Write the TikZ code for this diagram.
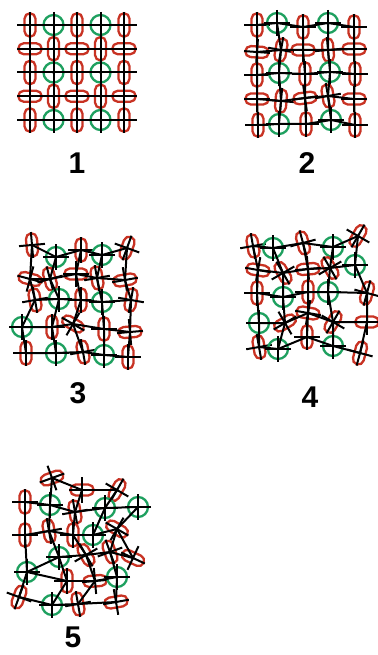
\documentclass[tikz,border=0pt]{standalone}
\usepackage{fontspec}
\setsansfont{Liberation Sans}
\usetikzlibrary{shapes.misc}
\definecolor{verm}{RGB}{200,50,35}
\definecolor{verde}{RGB}{30,160,95}

\begin{document}
\begin{tikzpicture}[x=1pt, y=-1pt,
    cellg/.style={circle, draw=verde, line width=2.3pt, minimum size=20pt, inner sep=0pt},
    cellr/.style={rounded rectangle, draw=verm, line width=2.3pt, minimum width=23.5pt, minimum height=11pt, inner sep=0pt, rotate=#1},
    fio/.style={black, line width=2pt},
    rotulo/.style={font=\sffamily\bfseries\fontsize{30}{30}\selectfont, inner sep=0pt}]
    \useasboundingbox (0,0) rectangle (377,655);
    % Painel 1 (rede regular)
    \foreach \n/\x/\y/\k/\a in {
      a-1-1/30/25/r/90, a-1-2/53.5/25/g/0, a-1-3/77/25/r/90, a-1-4/100.5/25/g/0, a-1-5/124/25/r/90,
      a-2-1/30/48.75/r/0, a-2-2/53.5/48.75/r/90, a-2-3/77/48.75/r/0, a-2-4/100.5/48.75/r/90, a-2-5/124/48.75/r/0,
      a-3-1/30/72.5/r/90, a-3-2/53.5/72.5/g/0, a-3-3/77/72.5/r/90, a-3-4/100.5/72.5/g/0, a-3-5/124/72.5/r/90,
      a-4-1/30/96.25/r/0, a-4-2/53.5/96.25/r/90, a-4-3/77/96.25/r/0, a-4-4/100.5/96.25/r/90, a-4-5/124/96.25/r/0,
      a-5-1/30/120/r/90, a-5-2/53.5/120/g/0, a-5-3/77/120/r/90, a-5-4/100.5/120/g/0, a-5-5/124/120/r/90,
    % Painel 2
      b-1-1/257/25/r/90, b-1-2/277/23/g/0, b-1-3/303/27/r/90, b-1-4/328/23/g/0, b-1-5/354/27/r/90,
      b-2-1/257/52/r/-4, b-2-2/281/50/r/80, b-2-3/303/50/r/0, b-2-4/328/50/r/95, b-2-5/354/49/r/0,
      b-3-1/257/75/r/90, b-3-2/279/73/g/0, b-3-3/305/74/r/90, b-3-4/330/72/g/0, b-3-5/355/74/r/90,
      b-4-1/257/99/r/0, b-4-2/281/101/r/85, b-4-3/305/98/r/8, b-4-4/328/96/r/100, b-4-5/354/99/r/0,
      b-5-1/258/125/r/90, b-5-2/279/124/g/0, b-5-3/306/124/r/90, b-5-4/331/120/g/0, b-5-5/355/125/r/90,
    % Painel 3
      c-1-1/32/245/r/95, c-1-2/56/257/g/0, c-1-3/81/250/r/90, c-1-4/102/255/g/0, c-1-5/127/248/r/70,
      c-2-1/30/279/r/-15, c-2-2/50/279/r/105, c-2-3/76/274/r/0, c-2-4/97/278/r/100, c-2-5/125/280/r/10,
      c-3-1/35/300/r/100, c-3-2/59/299/g/0, c-3-3/81/300/r/90, c-3-4/102/302/g/0, c-3-5/131/300/r/80,
      c-4-1/22/327/g/0, c-4-2/52/327/r/90, c-4-3/73/324/r/-30, c-4-4/104/329/r/90, c-4-5/130/332/r/5,
      c-5-1/26/353/r/90, c-5-2/56/353/g/0, c-5-3/83/352/r/100, c-5-4/104/355/g/0, c-5-5/128/357/r/90,
    % Painel 4
      d-1-1/253/246/r/100, d-1-2/273/248/g/0, d-1-3/303/243/r/105, d-1-4/333/247/g/0, d-1-5/358/236/r/60,
      d-2-1/258/270/r/-10, d-2-2/283/273/r/120, d-2-3/308/269/r/5, d-2-4/330/268/r/120, d-2-5/355/265/g/0,
      d-3-1/257/293/r/90, d-3-2/283/297/g/0, d-3-3/308/292/r/90, d-3-4/328/292/g/0, d-3-5/367/293/r/75,
      d-4-1/259/323/g/0, d-4-2/285/323/r/30, d-4-3/308/313/r/-10, d-4-4/333/322/r/60, d-4-5/367/322/r/0,
      d-5-1/259/347/r/100, d-5-2/278/349/g/0, d-5-3/307/337/r/90, d-5-4/333/346/g/0, d-5-5/360/353/r/75,
    % Painel 5 (rede desordenada)
      e1/52/478/r/20, e2/82/490/r/0, e3/117/490/r/60, e4/25/502/r/90, e5/50/505/g/0,
      e6/75/512/r/100, e7/105/508/g/0, e8/138/507/g/0, e9/25/535/r/90, e10/49/531/r/100,
      e11/73/535/r/90, e12/93/535/g/0, e13/117/529/r/-30, e14/59/557/g/0, e15/86/555/r/120,
      e16/110/552/r/110, e17/133/558/r/-25, e18/27/572/g/0, e19/67/581/r/90, e20/95/581/r/5,
      e21/117/577/g/0, e22/19/597/r/70, e23/52/605/g/0, e24/78/604/r/100, e25/116/602/r/10}{
      \node[cell\k=\a] (\n) at (\x,\y) {};
      \draw[fio] (\n.center) ++(\a:13pt) -- ++(\a:-26pt)
                 (\n.center) ++(\a+90:13pt) -- ++(\a+90:-26pt);
      \fill (\n.center) circle (1.7pt);
    }
    % Ligações das redes 1 a 4
    \foreach \p in {a,b,c,d}
      \foreach \r in {1,...,5} {
        \draw[fio] (\p-\r-1.center) -- (\p-\r-2.center) -- (\p-\r-3.center) -- (\p-\r-4.center) -- (\p-\r-5.center);
        \draw[fio] (\p-1-\r.center) -- (\p-2-\r.center) -- (\p-3-\r.center) -- (\p-4-\r.center) -- (\p-5-\r.center);
      }
    % Ligações da rede 5
    \foreach \u/\v in {e1/e2, e2/e3, e1/e5, e4/e5, e5/e6, e6/e7, e7/e8, e2/e6, e3/e7,
      e4/e9, e5/e10, e6/e11, e7/e12, e8/e13, e9/e10, e10/e11, e11/e12, e12/e13,
      e9/e18, e10/e14, e11/e15, e13/e16, e13/e17, e14/e15, e15/e16, e16/e17,
      e18/e14, e14/e19, e15/e20, e16/e21, e18/e19, e19/e20, e20/e21,
      e18/e22, e19/e23, e20/e24, e21/e25, e22/e23, e23/e24, e24/e25}
      \draw[fio] (\u.center) -- (\v.center);
    % Rótulos
    \node[rotulo] (n1) at (77,163) {1};
    \node[rotulo] (n2) at (307,163) {2};
    \node[rotulo] (n3) at (78,393) {3};
    \node[rotulo] (n4) at (310,397) {4};
    \node[rotulo] (n5) at (73,637) {5};
  \end{tikzpicture}
\end{document}
